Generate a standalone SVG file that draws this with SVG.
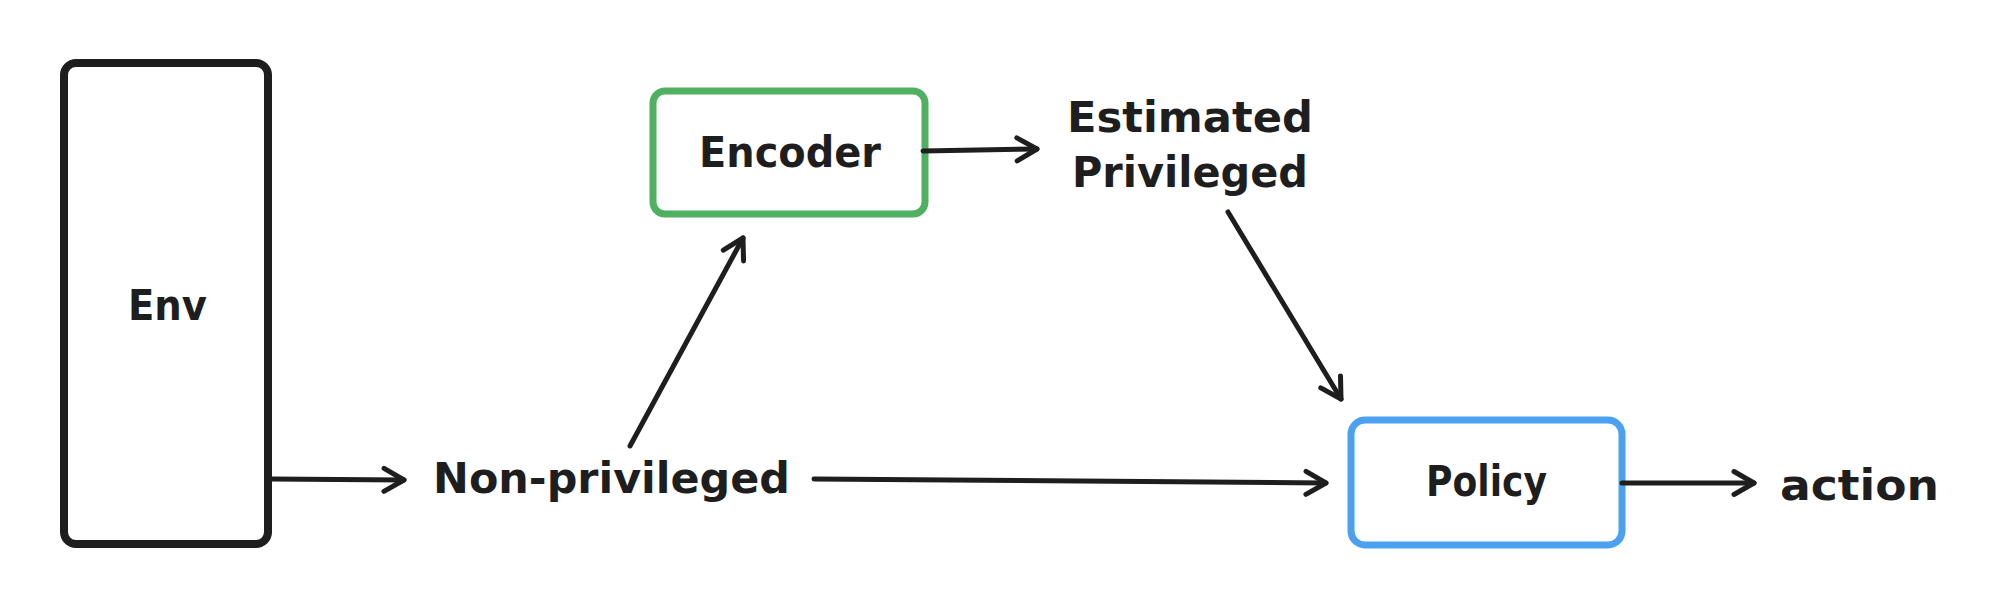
<svg xmlns="http://www.w3.org/2000/svg" width="2008" height="608" viewBox="0 0 2008 608">
  <style>
    .lbl { font-family: "DejaVu Sans", "Liberation Sans", sans-serif; font-weight: bold; font-size: 42px; fill: #1e1e1e; }
    .box { fill: #ffffff; stroke-linejoin: round; }
    .con { fill: none; stroke: #1e1e1e; stroke-width: 5; stroke-linecap: round; stroke-linejoin: round; }
  </style>
  <defs>
    <marker id="arrow" viewBox="-30 -15 36 30" markerWidth="36" markerHeight="30" refX="0" refY="0" markerUnits="userSpaceOnUse" orient="auto" overflow="visible">
      <path d="M -20 -11.5 L 0 0 L -20 11.5" fill="none" stroke="#1e1e1e" stroke-width="5" stroke-linecap="round" stroke-linejoin="round"/>
    </marker>
  </defs>
  <rect width="2008" height="608" fill="#ffffff"/>

  <g id="env">
    <rect class="box" x="64" y="63" width="204" height="481" rx="12" stroke="#1e1e1e" stroke-width="8"/>
    <text class="lbl" x="128" y="320" textLength="79" lengthAdjust="spacingAndGlyphs">Env</text>
  </g>

  <g id="non-privileged">
    <text class="lbl" x="433" y="493" textLength="357" lengthAdjust="spacingAndGlyphs">Non-privileged</text>
  </g>

  <g id="encoder">
    <rect class="box" x="653" y="91" width="272" height="123" rx="12" stroke="#4fb061" stroke-width="7"/>
    <text class="lbl" x="699" y="167" textLength="182" lengthAdjust="spacingAndGlyphs">Encoder</text>
  </g>

  <g id="estimated-privileged">
    <text class="lbl" x="1067" y="132" textLength="246" lengthAdjust="spacingAndGlyphs">Estimated</text>
    <text class="lbl" x="1072" y="187" textLength="236" lengthAdjust="spacingAndGlyphs">Privileged</text>
  </g>

  <g id="policy">
    <rect class="box" x="1351" y="420" width="271" height="125" rx="14" stroke="#4ba0f0" stroke-width="7"/>
    <text class="lbl" x="1426" y="496" textLength="121" lengthAdjust="spacingAndGlyphs">Policy</text>
  </g>

  <g id="action">
    <text class="lbl" x="1780" y="500" textLength="159" lengthAdjust="spacingAndGlyphs">action</text>
  </g>

  <g id="connectors">
    <path class="con" d="M 271 479 L 404 480" marker-end="url(#arrow)"/>
    <path class="con" d="M 630 446 L 743 238" marker-end="url(#arrow)"/>
    <path class="con" d="M 923 151 L 1037 149" marker-end="url(#arrow)"/>
    <path class="con" d="M 1228 212 L 1341 399" marker-end="url(#arrow)"/>
    <path class="con" d="M 814 479 L 1326 483" marker-end="url(#arrow)"/>
    <path class="con" d="M 1622 483 L 1754 483" marker-end="url(#arrow)"/>
  </g>
</svg>
